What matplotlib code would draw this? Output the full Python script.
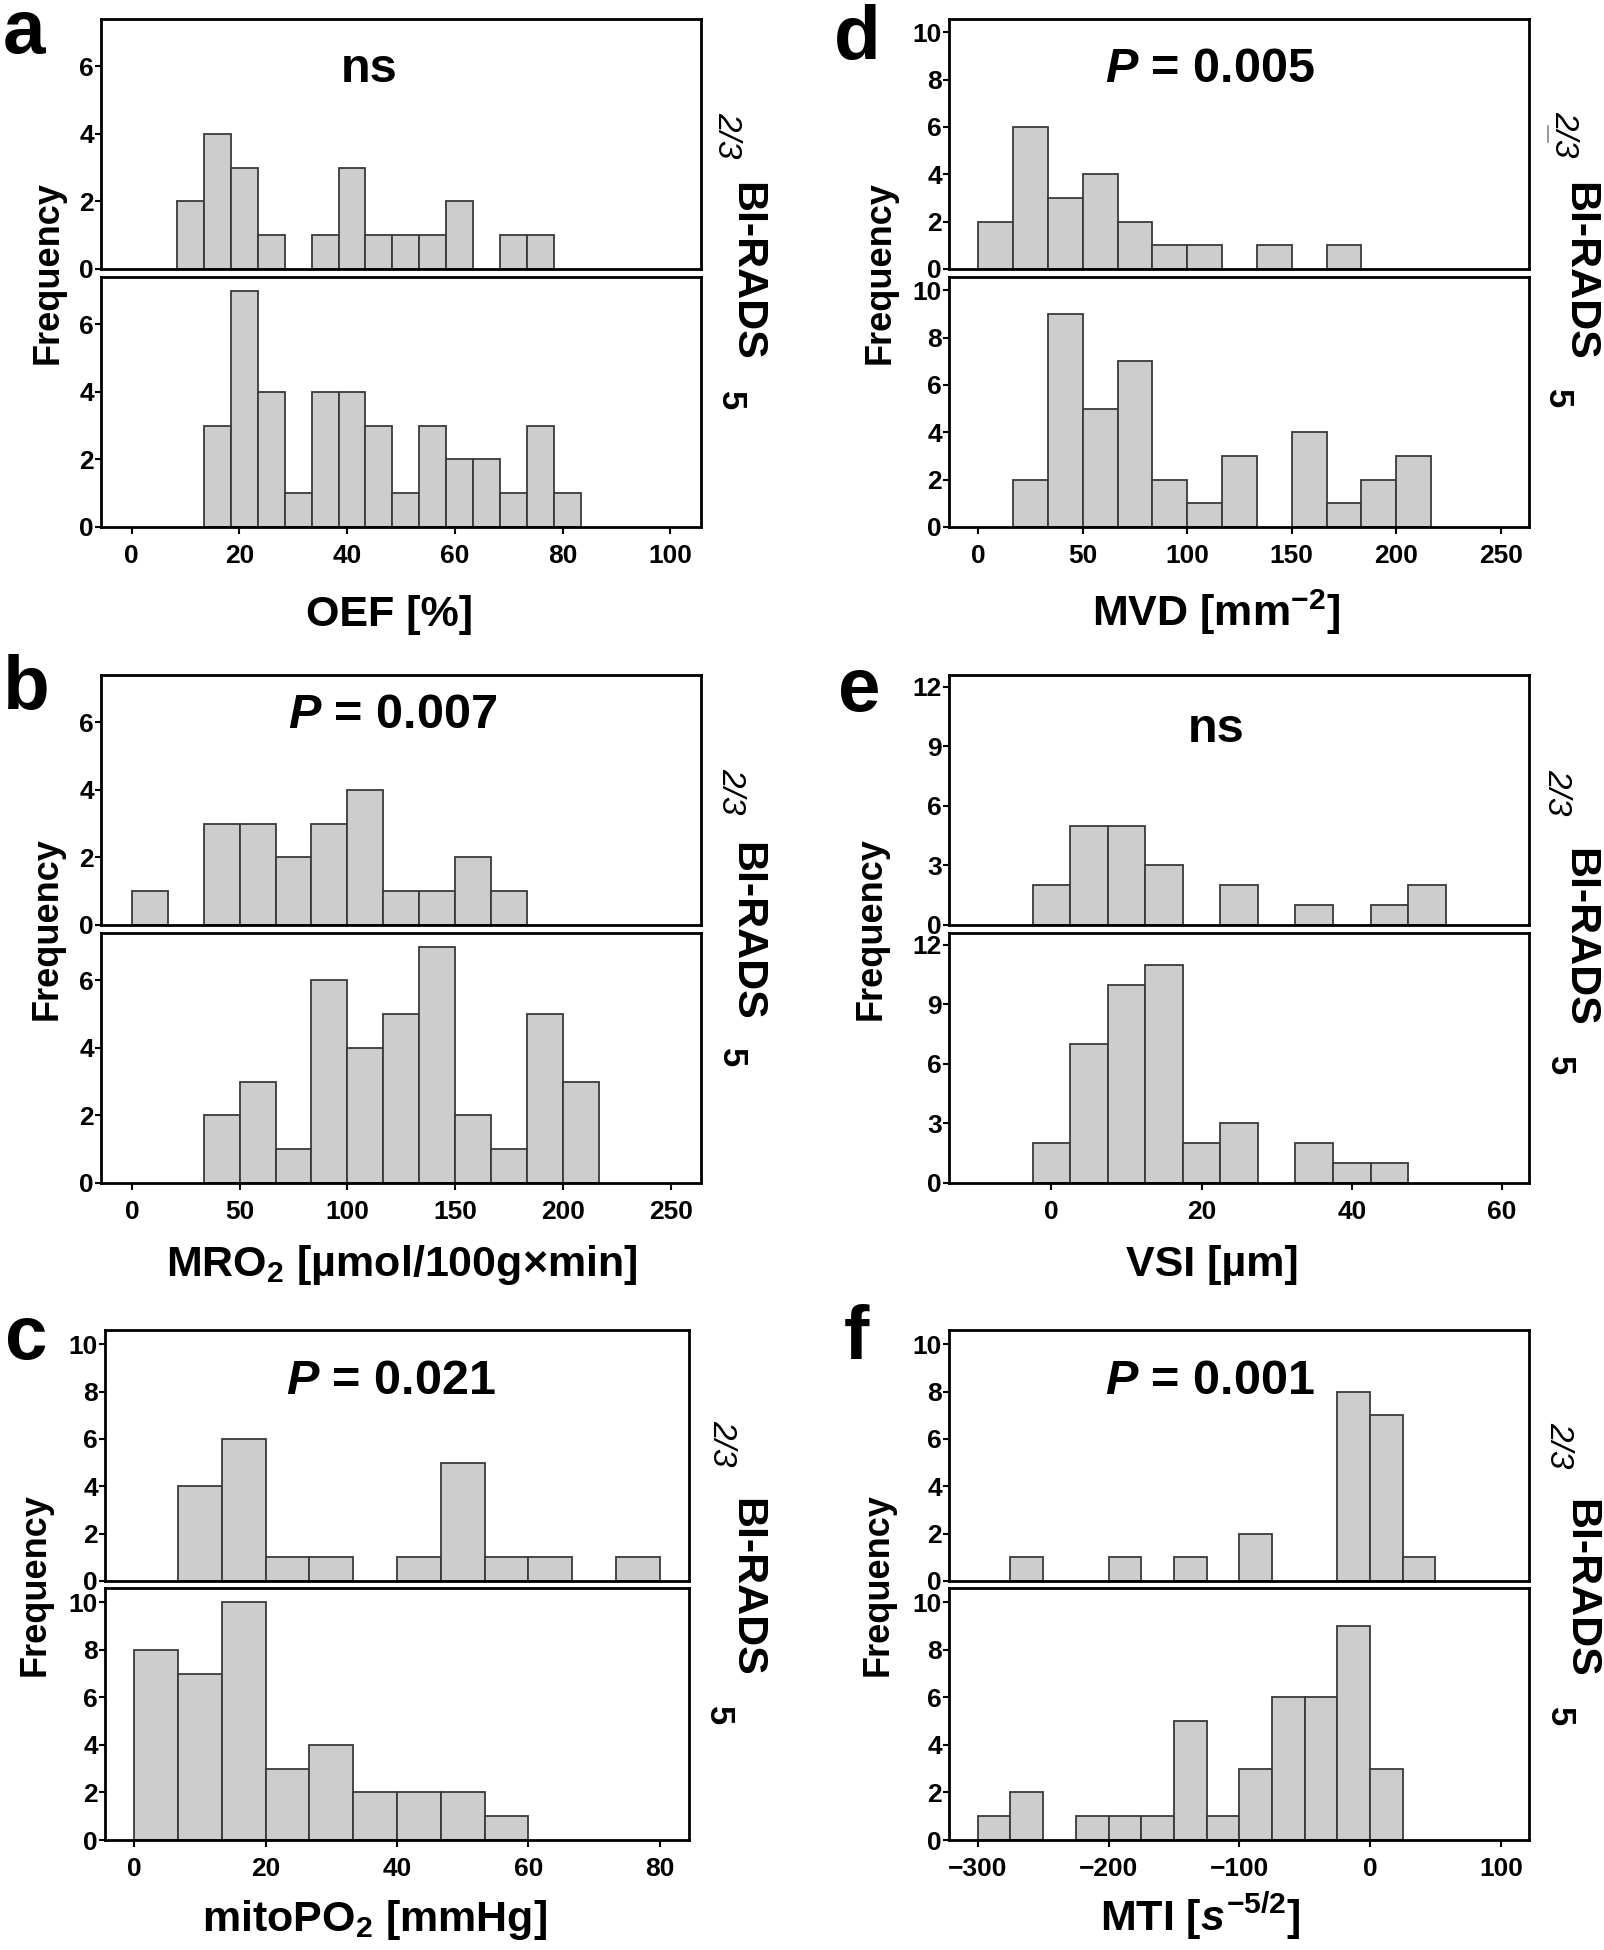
import matplotlib
matplotlib.use("Agg")
import matplotlib.pyplot as plt
import numpy as np

plt.rcParams['font.family'] = ['Liberation Sans', 'DejaVu Sans']
plt.rcParams['font.weight'] = 'bold'
plt.rcParams['mathtext.fontset'] = 'custom'
plt.rcParams['mathtext.rm'] = 'Liberation Sans:bold'
plt.rcParams['mathtext.bf'] = 'Liberation Sans:bold'
plt.rcParams['mathtext.it'] = 'Liberation Sans:italic:bold'

W, H = 1604, 1950

# ---- data: histogram counts per bin (BI-RADS 2/3 on top, BI-RADS 5 below)
oef_start, oef_width = 8.4, 5.0
oef_low = [2, 4, 3, 1, 0, 1, 3, 1, 1, 1, 2, 0, 1, 1]
oef_high = [0, 3, 7, 4, 1, 4, 4, 3, 1, 3, 2, 2, 1, 3, 1]

mro2_start, mro2_width = 0.0, 50 / 3
mro2_low = [1, 0, 3, 3, 2, 3, 4, 1, 1, 2, 1]
mro2_high = [0, 0, 2, 3, 1, 6, 4, 5, 7, 2, 1, 5, 3]

mito_start, mito_width = 0.0, 20 / 3
mito_low = [0, 4, 6, 1, 1, 0, 1, 5, 1, 1, 0, 1]
mito_high = [8, 7, 10, 3, 4, 2, 2, 2, 1]

mvd_start, mvd_width = 0.0, 50 / 3
mvd_low = [2, 6, 3, 4, 2, 1, 1, 0, 1, 0, 1]
mvd_high = [0, 2, 9, 5, 7, 2, 1, 3, 0, 4, 1, 2, 3]

vsi_start, vsi_width = -2.5, 5.0
vsi_low = [2, 5, 5, 3, 0, 2, 0, 1, 0, 1, 2]
vsi_high = [2, 7, 10, 11, 2, 3, 0, 2, 1, 1]

mti_start, mti_width = -300.0, 25.0
mti_low = [0, 1, 0, 0, 1, 0, 1, 0, 2, 0, 0, 8, 7, 1]
mti_high = [1, 2, 0, 1, 1, 1, 5, 1, 3, 6, 6, 9, 3]

panels = [
    dict(letter="a", start=oef_start, width=oef_width, low=oef_low, high=oef_high,
         xticks=[0, 20, 40, 60, 80, 100], xlim=(-5.7, 105.7),
         yticks=[0, 2, 4, 6], ymax=7.4, note="ns", xlabel="OEF [%]"),
    dict(letter="b", start=mro2_start, width=mro2_width, low=mro2_low, high=mro2_high,
         xticks=[0, 50, 100, 150, 200, 250], xlim=(-14.3, 264),
         yticks=[0, 2, 4, 6], ymax=7.4, note=r"$\mathit{P}$ = 0.007",
         xlabel=r"MRO$_2$ [µmol/100g×min]"),
    dict(letter="c", start=mito_start, width=mito_width, low=mito_low, high=mito_high,
         xticks=[0, 20, 40, 60, 80], xlim=(-4.45, 84.45),
         yticks=[0, 2, 4, 6, 8, 10], ymax=10.6, note=r"$\mathit{P}$ = 0.021",
         xlabel=r"mitoPO$_2$ [mmHg]"),
    dict(letter="d", start=mvd_start, width=mvd_width, low=mvd_low, high=mvd_high,
         xticks=[0, 50, 100, 150, 200, 250], xlim=(-14, 263.5),
         yticks=[0, 2, 4, 6, 8, 10], ymax=10.56, note=r"$\mathit{P}$ = 0.005",
         xlabel=r"MVD [mm$^{-2}$]"),
    dict(letter="e", start=vsi_start, width=vsi_width, low=vsi_low, high=vsi_high,
         xticks=[0, 20, 40, 60], xlim=(-13.65, 63.6),
         yticks=[0, 3, 6, 9, 12], ymax=12.6, note="ns", xlabel="VSI [µm]"),
    dict(letter="f", start=mti_start, width=mti_width, low=mti_low, high=mti_high,
         xticks=[-300, -200, -100, 0, 100], xlim=(-322, 121.5),
         yticks=[0, 2, 4, 6, 8, 10], ymax=10.6, note=r"$\mathit{P}$ = 0.001",
         xlabel=r"MTI [$\mathit{s}^{-5/2}$]"),
]

# layout in pixels: (left, right, top1, bot1, top2, bot2)
boxes = {
    "a": (101, 701, 19, 269, 277, 527),
    "b": (101, 701, 675, 925, 933, 1183),
    "c": (105, 689, 1330, 1581, 1588, 1840),
    "d": (949, 1529, 19, 269, 277, 527),
    "e": (949, 1529, 675, 925, 933, 1183),
    "f": (949, 1529, 1330, 1581, 1588, 1840),
}
letter_pos = {"a": (3, 53), "b": (3, 709), "c": (5, 1359),
              "d": (834, 59), "e": (838, 711), "f": (844, 1359)}
freq_x = {"a": 48, "b": 47, "c": 35, "d": 880, "e": 871, "f": 878}
note_pos = {"a": (0.447, 0.75), "b": (0.487, 0.79), "c": (0.49, 0.745),
            "d": (0.45, 0.75), "e": (0.46, 0.73), "f": (0.45, 0.745)}
xlabel_pos = {"a": (390, 626), "b": (402, 1276), "c": (375, 1931),
              "d": (1216, 626), "e": (1212, 1276), "f": (1200, 1931)}
side = {  # (x, y) of "2/3", "BI-RADS", "5"
    "a": ((727, 135), (746, 271), (730, 401)),
    "b": ((731, 791), (746, 931), (731, 1058)),
    "c": ((722, 1443), (746, 1587), (718, 1716)),
    "d": ((1564, 134), (1579, 271), (1557, 399)),
    "e": ((1557, 792), (1579, 937), (1559, 1066)),
    "f": ((1559, 1445), (1580, 1588), (1559, 1717)),
}

fig = plt.figure(figsize=(W / 100, H / 100), dpi=100)


def fx(px):
    return px / W


def fy(py):
    return 1 - py / H


for p in panels:
    k = p["letter"]
    l, r, t1, b1, t2, b2 = boxes[k]
    ax1 = fig.add_axes([fx(l), fy(b1), fx(r - l), (b1 - t1) / H])
    ax2 = fig.add_axes([fx(l), fy(b2), fx(r - l), (b2 - t2) / H])
    for ax, counts in ((ax1, p["low"]), (ax2, p["high"])):
        counts = np.array(counts)
        lefts = p["start"] + p["width"] * np.arange(len(counts))
        keep = counts > 0
        ax.bar(lefts[keep], counts[keep], width=p["width"], align="edge",
               color="#cdcdcd", edgecolor="#3a3a3a", linewidth=1.3)
        ax.set_xlim(*p["xlim"])
        ax.set_ylim(0, p["ymax"])
        ax.set_yticks(p["yticks"])
        ax.set_xticks(p["xticks"])
        for s in ax.spines.values():
            s.set_linewidth(2.0)
        ax.tick_params(axis="y", direction="out", length=4, width=1.5,
                       labelsize=19, pad=1)
        ax.tick_params(axis="x", direction="out", length=5, width=1.5,
                       labelsize=19, pad=7)
    ax1.tick_params(axis="x", bottom=False, labelbottom=False)
    ax1.text(note_pos[k][0], note_pos[k][1], p["note"], transform=ax1.transAxes,
             ha="center", va="baseline", fontsize=35, fontweight="bold")

    lx, ly = xlabel_pos[k]
    fig.text(fx(lx), fy(ly), p["xlabel"], fontsize=31, fontweight="bold",
             ha="center", va="baseline")
    fig.text(fx(letter_pos[k][0]), fy(letter_pos[k][1]), k, fontsize=55,
             fontweight="bold", ha="left", va="baseline")
    fig.text(fx(freq_x[k]), fy((b1 + t2) / 2), "Frequency", rotation=90,
             fontsize=26, fontweight="bold", ha="center", va="center")
    (x23, y23), (xbr, ybr), (x5, y5) = side[k]
    fig.text(fx(x23), fy(y23), "2/3", rotation=-90, fontsize=24,
             fontweight="normal", style="italic", ha="center", va="center")
    fig.text(fx(xbr), fy(ybr), "BI-RADS", rotation=-90, fontsize=31,
             fontweight="bold", ha="center", va="center")
    fig.text(fx(x5), fy(y5), "5", rotation=-90, fontsize=25,
             fontweight="bold", ha="center", va="center")
    if k == "d":
        fig.lines.append(plt.Line2D([fx(x23 - 16), fx(x23 - 16)],
                                    [fy(y23 - 8), fy(y23 + 8)],
                                    transform=fig.transFigure,
                                    color="#888888", linewidth=1.2))

fig.savefig("out.png", dpi=100)
